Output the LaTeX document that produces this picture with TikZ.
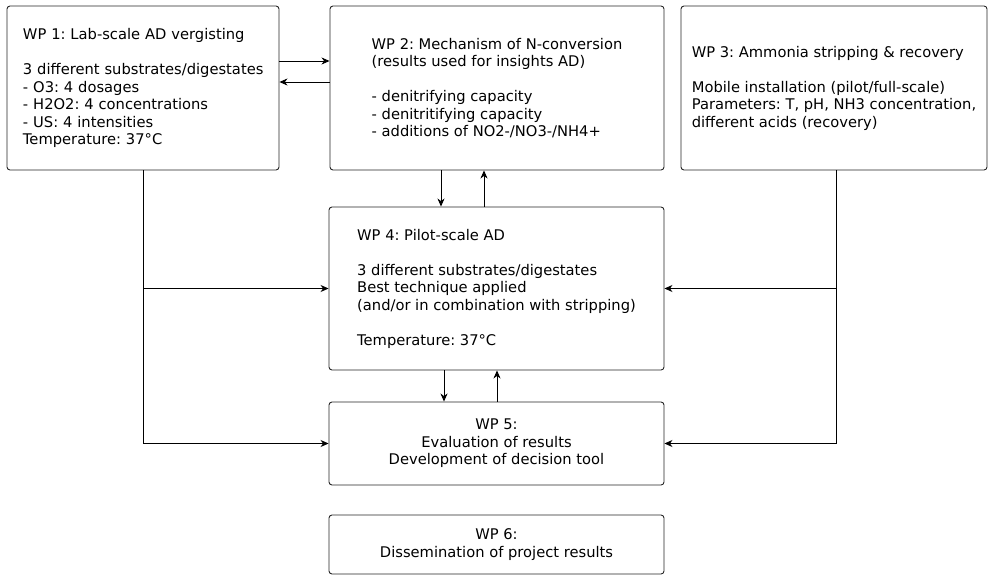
\documentclass[tikz,border=0pt]{standalone}
\usepackage{fontspec}
\setmainfont{DejaVu Sans}
\usetikzlibrary{arrows.meta,calc}
\frenchspacing

\begin{document}
\begin{tikzpicture}[x=1pt,y=-1pt,
  wpbox/.style={draw=black!85,line width=0.9pt,rounded corners=3pt,
    font=\fontsize{14.7}{17.5}\selectfont,inner sep=0pt},
  arr/.style={line width=0.9pt,-{Stealth[length=8pt,width=7pt,inset=2.5pt]}}
]
\useasboundingbox (0,0) rectangle (993,575);

% work packages
\node[wpbox,minimum width=272,minimum height=164,text width=240,
      inner xsep=16,align=left] (wp1) at (143,88)
  {WP 1: Lab-scale AD vergisting\\[17.5pt]
   \mbox{3 different substrates/digestates}\\
   - O3: 4 dosages\\
   - H2O2: 4 concentrations\\
   - US: 4 intensities\\
   Temperature: 37°C};

\node[wpbox,minimum width=334,minimum height=164,align=left] (wp2) at (497,88)
  {WP 2: Mechanism of N-conversion\\
   (results used for insights AD)\\[17.5pt]
   - denitrifying capacity\\
   - denitritifying capacity\\
   - additions of NO2-/NO3-/NH4+};

\node[wpbox,minimum width=306,minimum height=164,align=left] (wp3) at (834,88)
  {WP 3: Ammonia stripping \& recovery\\[17.5pt]
   Mobile installation (pilot/full-scale)\\
   Parameters: T, pH, NH3 concentration,\\
   different acids (recovery)};

\node[wpbox,minimum width=335,minimum height=163,align=left] (wp4) at (496.5,288.5)
  {WP 4: Pilot-scale AD\\[17.5pt]
   3 different substrates/digestates\\
   Best technique applied\\
   (and/or in combination with stripping)\\[17.5pt]
   Temperature: 37°C};

\node[wpbox,minimum width=335,minimum height=83,align=center] (wp5) at (496.5,443.5)
  {WP 5:\\ Evaluation of results\\ Development of decision tool};

\node[wpbox,minimum width=335,minimum height=59,align=center] (wp6) at (496.5,544.5)
  {WP 6:\\ Dissemination of project results};

% exchange between WP 1 and WP 2
\draw[arr] (wp1.east |- 0,61) -- (wp2.west |- 0,61);
\draw[arr] (wp2.west |- 0,82) -- (wp1.east |- 0,82);

% exchange between WP 2 and WP 4
\draw[arr] (wp2.south -| 441,0) -- (wp4.north -| 441,0);
\draw[arr] (wp4.north -| 484,0) -- (wp2.south -| 484,0);

% exchange between WP 4 and WP 5
\draw[arr] (wp4.south -| 444,0) -- (wp5.north -| 444,0);
\draw[arr] (wp5.north -| 497,0) -- (wp4.south -| 497,0);

% WP 1 feeds WP 4 and WP 5
\draw[arr] (wp1.south) |- (wp4.west);
\draw[arr] (wp1.south) |- (wp5.west);

% WP 3 feeds WP 4 and WP 5
\coordinate (w3) at (wp3.south -| 836,0);
\draw[arr] (w3) |- (wp4.east);
\draw[arr] (w3) |- (wp5.east);
\end{tikzpicture}
\end{document}
